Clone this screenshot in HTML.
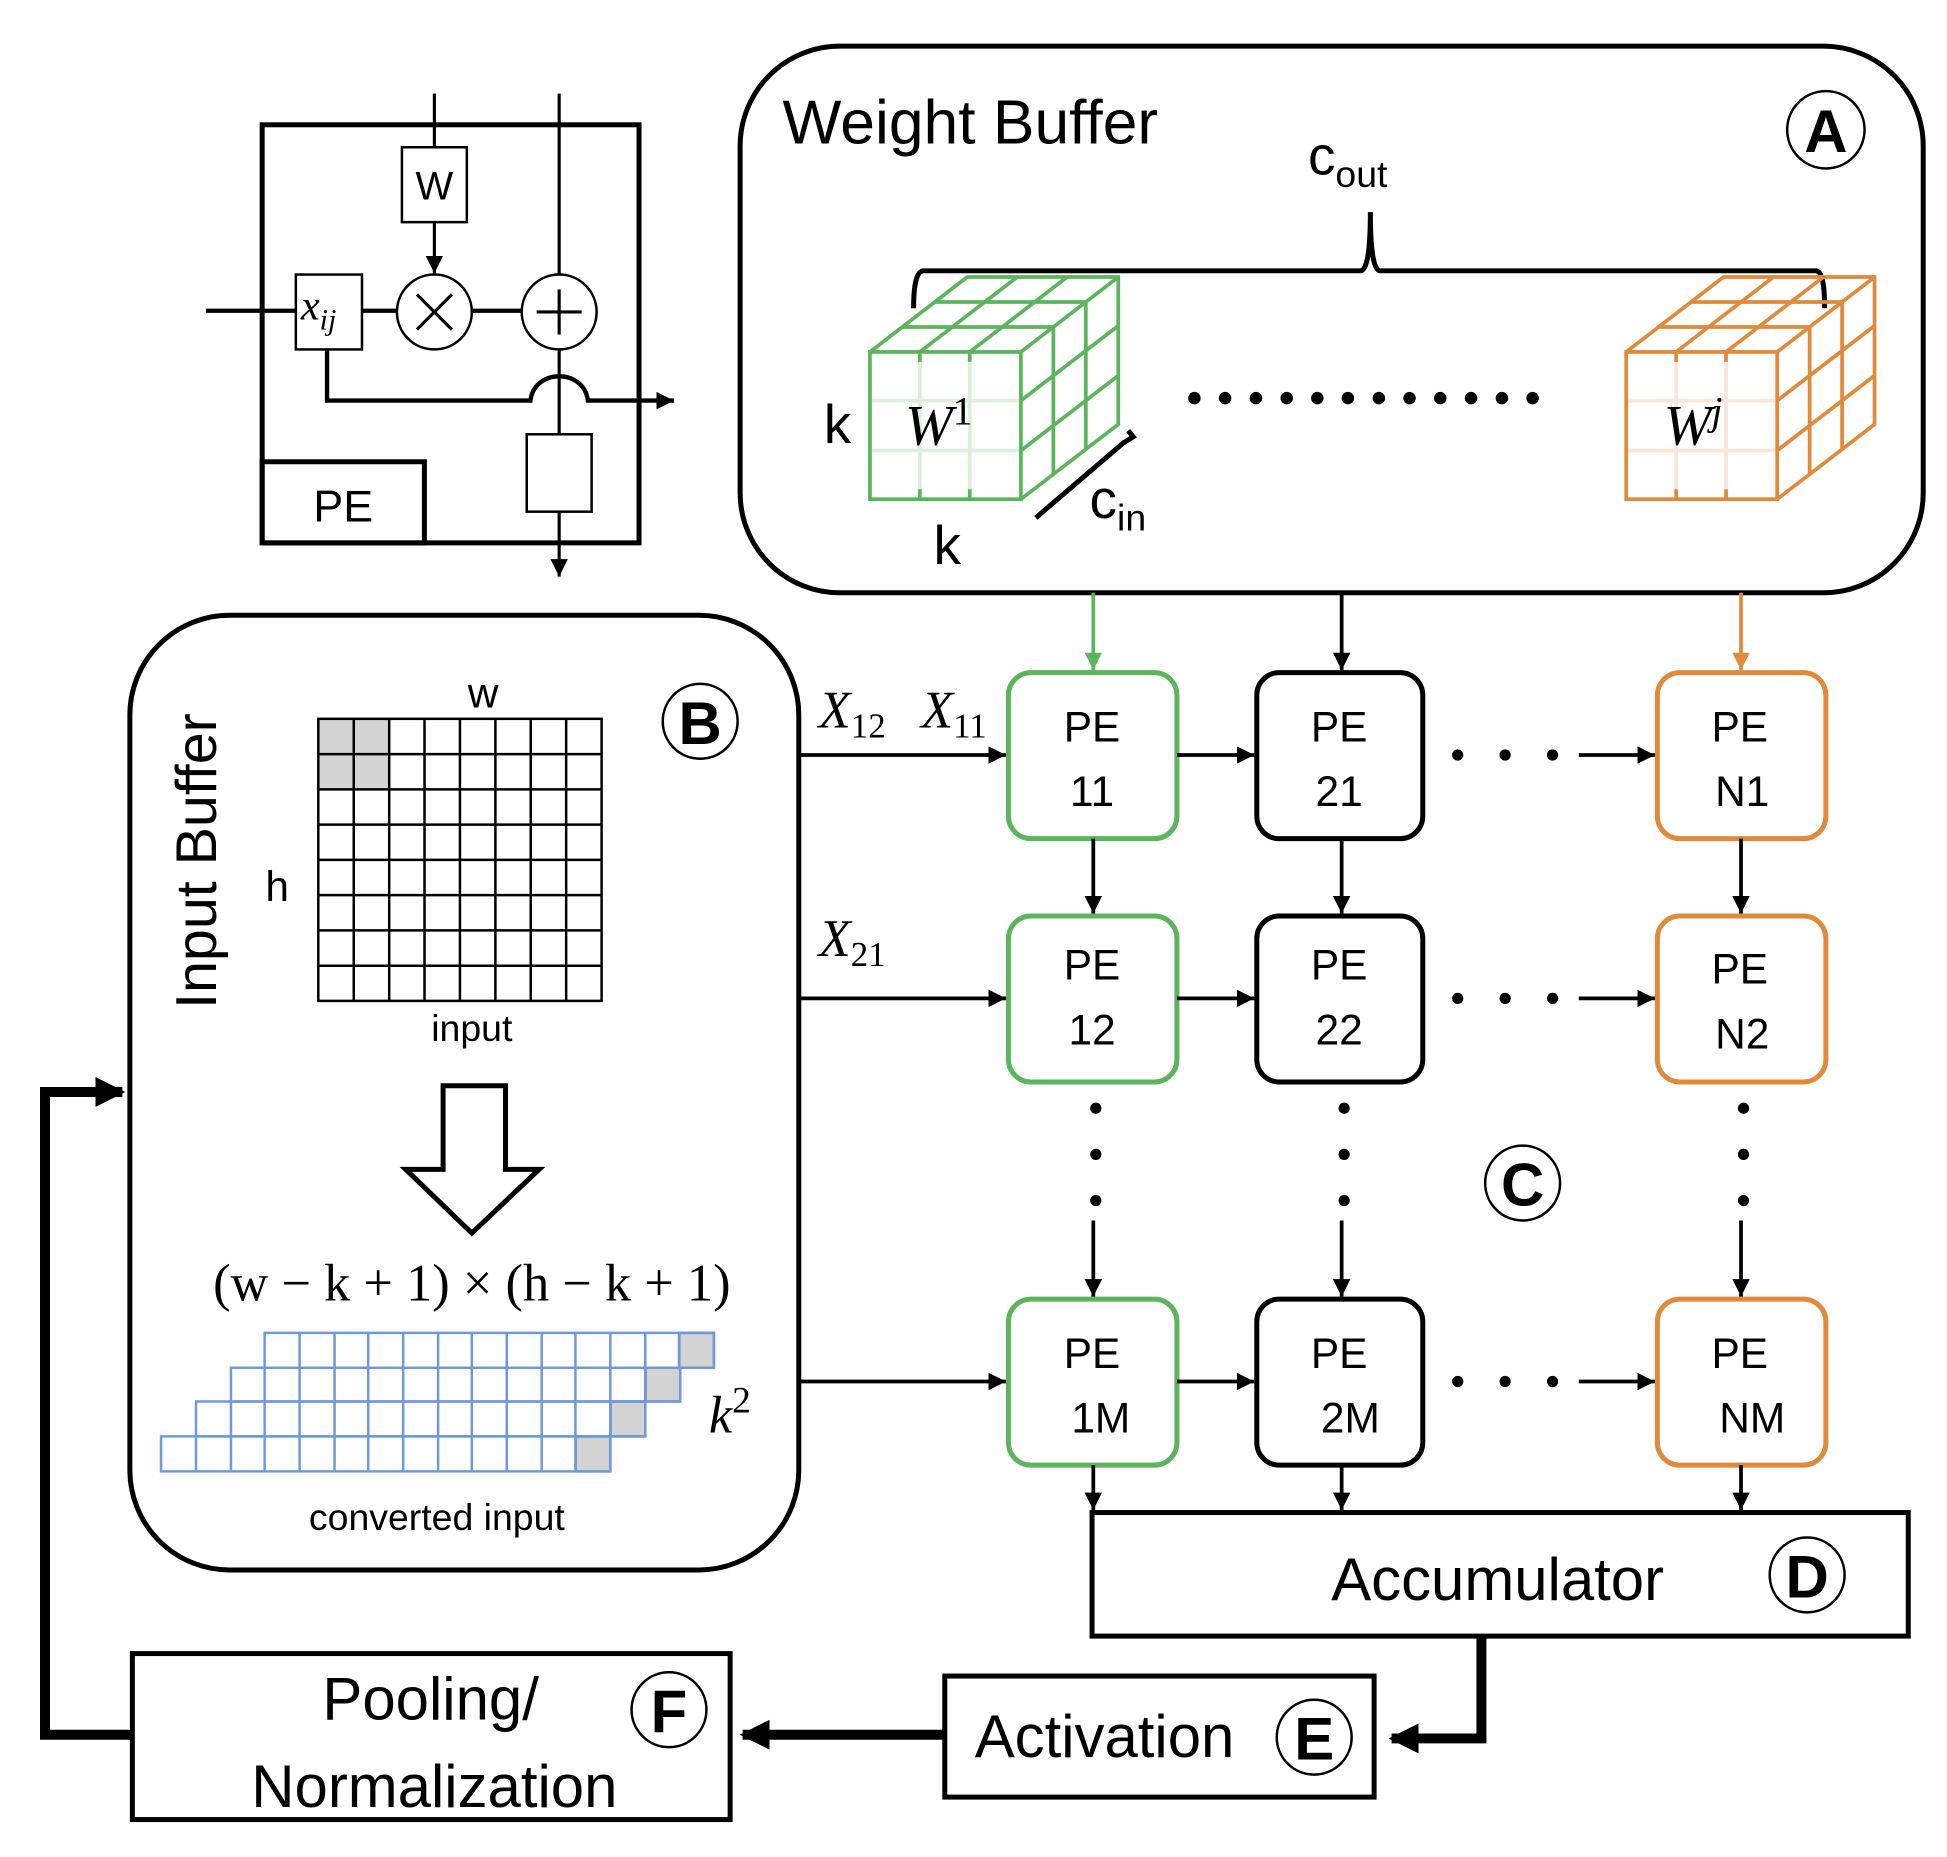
<!DOCTYPE html>
<html><head><meta charset="utf-8"><style>
html,body{margin:0;padding:0;background:#fff}
svg{display:block}
text{font-family:"Liberation Sans","DejaVu Sans",sans-serif}
.s{font-family:"Liberation Serif",serif;font-style:italic}
.r{font-family:"Liberation Serif",serif}
</style></head><body>
<svg width="1947" height="1857" viewBox="0 0 1560 1488" xmlns="http://www.w3.org/2000/svg">
<defs>
<marker id="a" viewBox="0 0 10 10" markerWidth="14" markerHeight="14" refX="10" refY="5" orient="auto" markerUnits="userSpaceOnUse"><path d="M0,0 L10,5 L0,10z" fill="#000"/></marker>
<marker id="ag" viewBox="0 0 10 10" markerWidth="14" markerHeight="14" refX="10" refY="5" orient="auto" markerUnits="userSpaceOnUse"><path d="M0,0 L10,5 L0,10z" fill="#5cb55c"/></marker>
<marker id="ao" viewBox="0 0 10 10" markerWidth="14" markerHeight="14" refX="10" refY="5" orient="auto" markerUnits="userSpaceOnUse"><path d="M0,0 L10,5 L0,10z" fill="#e08a3c"/></marker>
<marker id="at" viewBox="0 0 10 10" markerWidth="24" markerHeight="24" refX="9" refY="5" orient="auto" markerUnits="userSpaceOnUse"><path d="M0,0 L10,5 L0,10z" fill="#000"/></marker>
<g id="cube">
<rect x="697" y="282" width="121" height="118"/>
<path d="M697,282 L775,222 H896 V340 L818,400 M818,282 L896,222"/>
<path d="M737,282V290M737,392V400M777,282V290M777,392V400"/>
<path d="M723,262H844M749,242H870M737,282L815,222M777,282L855,222"/>
<path d="M844,262V380M870,242V360M818,321L896,261M818,361L896,301"/>
</g>
</defs>
<g fill="none" stroke="#000">
<rect x="210" y="100" width="302" height="335" stroke-width="4"/>
<rect x="210" y="370" width="130" height="65" stroke-width="4"/>
<line x1="348" y1="75" x2="348" y2="118" stroke-width="2.5"/>
<rect x="322" y="118" width="52" height="60" stroke-width="2"/>
<line x1="348" y1="178" x2="348" y2="219" stroke-width="2.5" marker-end="url(#a)"/>
<circle cx="348" cy="250" r="30" stroke-width="2"/>
<path d="M334,236 L362,264 M362,236 L334,264" stroke-width="2.5"/>
<circle cx="448" cy="250" r="30" stroke-width="2"/>
<path d="M448,232 V268 M430,250 H466" stroke-width="2.5"/>
<line x1="448" y1="75" x2="448" y2="220" stroke-width="2.5"/>
<line x1="448" y1="280" x2="448" y2="348" stroke-width="2.5"/>
<rect x="422" y="348" width="52" height="62" stroke-width="2"/>
<line x1="448" y1="410" x2="448" y2="462" stroke-width="2.5" marker-end="url(#a)"/>
<line x1="165" y1="249" x2="237" y2="249" stroke-width="3.5"/>
<rect x="237" y="220" width="53" height="60" stroke-width="2"/>
<line x1="290" y1="249" x2="318" y2="249" stroke-width="3.5"/>
<line x1="378" y1="249" x2="418" y2="249" stroke-width="3.5"/>
<path d="M262,280 V321 H425 C428,295 468,295 471,321 H540" stroke-width="3.5" marker-end="url(#a)"/>
<rect x="593" y="37" width="948" height="438" rx="80" stroke-width="4"/>
<circle cx="1463" cy="104" r="31" stroke-width="2"/>
<path d="M732,247 Q732,217 740,217 H1090 Q1098,217 1098,170 Q1098,217 1106,217 H1455 Q1462,217 1462,247" stroke-width="4"/>
<path d="M830,415 L838,408 L900,355 L908,350 L904,345" stroke-width="4"/>
<rect x="104" y="493" width="536" height="765" rx="80" stroke-width="4"/>
<circle cx="561" cy="578" r="30" stroke-width="2"/>
<circle cx="1220" cy="948" r="30" stroke-width="2"/>
<path d="M355,870 H405 V937 H432 L378,988 L325,937 H355 Z" stroke-width="4"/>
<rect x="875" y="1212" width="654" height="99" stroke-width="4"/>
<circle cx="1448" cy="1262" r="30" stroke-width="2"/>
<rect x="757" y="1343" width="344" height="97" stroke-width="4"/>
<circle cx="1053" cy="1392" r="30" stroke-width="2"/>
<rect x="106" y="1325" width="479" height="133" stroke-width="4"/>
<circle cx="536" cy="1370" r="30" stroke-width="2"/>
<path d="M1187,1311 V1393 H1115" stroke-width="8" marker-end="url(#at)"/>
<path d="M757,1390 H595" stroke-width="8" marker-end="url(#at)"/>
<path d="M106,1390 H36 V875 H98" stroke-width="8" marker-end="url(#at)"/>
</g>
<rect x="255" y="576" width="57" height="57" fill="#d3d3d3"/>
<g stroke="#000" stroke-width="2" fill="none">
<rect x="255" y="576" width="227" height="226"/>
<path d="M283.4,576V802M311.8,576V802M340.1,576V802M368.5,576V802M396.9,576V802M425.2,576V802M453.6,576V802
M255,604.3H482M255,632.5H482M255,660.8H482M255,689H482M255,717.3H482M255,745.5H482M255,773.8H482"/>
</g>
<g fill="#d3d3d3" stroke="#6f9ad6" stroke-width="2">
<rect x="544.3" y="1068" width="27.7" height="28"/>
<rect x="517.3" y="1096" width="27.7" height="27"/>
<rect x="489.3" y="1123" width="27.7" height="28"/>
<rect x="461.3" y="1151" width="27.7" height="28"/>
</g>
<g stroke="#6f9ad6" stroke-width="2" fill="none">
<path d="M212,1068H572V1096H212Z M240,1068V1096M268,1068V1096M295,1068V1096M323,1068V1096M351,1068V1096M378,1068V1096M406,1068V1096M434,1068V1096M461,1068V1096M489,1068V1096M517,1068V1096M544,1068V1096"/>
<path d="M185,1096H545V1123H185Z M212,1096V1123M240,1096V1123M268,1096V1123M295,1096V1123M323,1096V1123M351,1096V1123M378,1096V1123M406,1096V1123M434,1096V1123M461,1096V1123M489,1096V1123M517,1096V1123"/>
<path d="M157,1123H517V1151H157Z M185,1123V1151M212,1123V1151M240,1123V1151M268,1123V1151M295,1123V1151M323,1123V1151M351,1123V1151M378,1123V1151M406,1123V1151M434,1123V1151M461,1123V1151M489,1123V1151"/>
<path d="M129,1151H489V1179H129Z M157,1151V1179M185,1151V1179M212,1151V1179M240,1151V1179M268,1151V1179M295,1151V1179M323,1151V1179M351,1151V1179M378,1151V1179M406,1151V1179M434,1151V1179M461,1151V1179"/>
</g>
<g fill="none" stroke-width="3">
<path d="M737,282V400M777,282V400M697,321H818M697,361H818" stroke="#dceedc"/>
<use href="#cube" stroke="#5cb55c"/>
<path d="M1343,282V400M1383,282V400M1303,321H1424M1303,361H1424" stroke="#f8e6d6"/>
<use href="#cube" stroke="#e08a3c" transform="translate(606,0)"/>
</g>
<g fill="#000">
<circle cx="957" cy="319" r="5"/><circle cx="981.6" cy="319" r="5"/><circle cx="1006.3" cy="319" r="5"/><circle cx="1031" cy="319" r="5"/><circle cx="1055.5" cy="319" r="5"/><circle cx="1080" cy="319" r="5"/><circle cx="1104.8" cy="319" r="5"/><circle cx="1129.4" cy="319" r="5"/><circle cx="1154" cy="319" r="5"/><circle cx="1178.7" cy="319" r="5"/><circle cx="1203.4" cy="319" r="5"/><circle cx="1228" cy="319" r="5"/>
</g>
<g fill="none" stroke-width="4">
<rect x="808" y="539" width="135" height="133" rx="18" stroke="#5cb55c"/>
<rect x="808" y="734" width="135" height="133" rx="18" stroke="#5cb55c"/>
<rect x="808" y="1041" width="135" height="133" rx="18" stroke="#5cb55c"/>
<rect x="1007" y="539" width="133" height="133" rx="18" stroke="#000"/>
<rect x="1007" y="734" width="133" height="133" rx="18" stroke="#000"/>
<rect x="1007" y="1041" width="133" height="133" rx="18" stroke="#000"/>
<rect x="1328" y="539" width="135" height="133" rx="18" stroke="#e08a3c"/>
<rect x="1328" y="734" width="135" height="133" rx="18" stroke="#e08a3c"/>
<rect x="1328" y="1041" width="135" height="133" rx="18" stroke="#e08a3c"/>
</g>
<g stroke-width="3" fill="none">
<line x1="876" y1="475" x2="876" y2="537" stroke="#5cb55c" marker-end="url(#ag)"/>
<line x1="1075" y1="475" x2="1075" y2="537" stroke="#000" marker-end="url(#a)"/>
<line x1="1395" y1="475" x2="1395" y2="537" stroke="#e08a3c" marker-end="url(#ao)"/>
<g stroke="#000">
<line x1="640" y1="605" x2="806" y2="605" marker-end="url(#a)"/>
<line x1="640" y1="800" x2="806" y2="800" marker-end="url(#a)"/>
<line x1="640" y1="1107" x2="806" y2="1107" marker-end="url(#a)"/>
<line x1="943" y1="605" x2="1005" y2="605" marker-end="url(#a)"/>
<line x1="943" y1="800" x2="1005" y2="800" marker-end="url(#a)"/>
<line x1="943" y1="1107" x2="1005" y2="1107" marker-end="url(#a)"/>
<line x1="1265" y1="605" x2="1326" y2="605" marker-end="url(#a)"/>
<line x1="1265" y1="800" x2="1326" y2="800" marker-end="url(#a)"/>
<line x1="1265" y1="1107" x2="1326" y2="1107" marker-end="url(#a)"/>
<line x1="876" y1="672" x2="876" y2="732" marker-end="url(#a)"/>
<line x1="1075" y1="672" x2="1075" y2="732" marker-end="url(#a)"/>
<line x1="1395" y1="672" x2="1395" y2="732" marker-end="url(#a)"/>
<line x1="876" y1="978" x2="876" y2="1039" marker-end="url(#a)"/>
<line x1="1075" y1="978" x2="1075" y2="1039" marker-end="url(#a)"/>
<line x1="1395" y1="978" x2="1395" y2="1039" marker-end="url(#a)"/>
<line x1="876" y1="1174" x2="876" y2="1210" marker-end="url(#a)"/>
<line x1="1075" y1="1174" x2="1075" y2="1210" marker-end="url(#a)"/>
<line x1="1395" y1="1174" x2="1395" y2="1210" marker-end="url(#a)"/>
</g>
</g>
<g fill="#000">
<circle cx="1168" cy="605" r="4.5"/><circle cx="1206" cy="605" r="4.5"/><circle cx="1244" cy="605" r="4.5"/>
<circle cx="1168" cy="800" r="4.5"/><circle cx="1206" cy="800" r="4.5"/><circle cx="1244" cy="800" r="4.5"/>
<circle cx="1168" cy="1107" r="4.5"/><circle cx="1206" cy="1107" r="4.5"/><circle cx="1244" cy="1107" r="4.5"/>
<circle cx="878" cy="888" r="4.5"/><circle cx="878" cy="925" r="4.5"/><circle cx="878" cy="962" r="4.5"/>
<circle cx="1077" cy="888" r="4.5"/><circle cx="1077" cy="925" r="4.5"/><circle cx="1077" cy="962" r="4.5"/>
<circle cx="1397" cy="888" r="4.5"/><circle cx="1397" cy="925" r="4.5"/><circle cx="1397" cy="962" r="4.5"/>
</g>
<g fill="#000">
<text x="348" y="160" font-size="32" text-anchor="middle">W</text>
<text x="241" y="256" font-size="34" class="s">x<tspan font-size="24" dy="8">ij</tspan></text>
<text x="275" y="418" font-size="36" text-anchor="middle">PE</text>
<text x="627" y="115" font-size="50">Weight Buffer</text>
<text x="1463" y="122" font-size="48" font-weight="bold" text-anchor="middle">A</text>
<text x="1048" y="140" font-size="44">c<tspan font-size="30" dy="10">out</tspan></text>
<text x="660" y="355" font-size="44">k</text>
<text x="748" y="452" font-size="44">k</text>
<text x="873" y="415" font-size="44">c<tspan font-size="30" dy="10">in</tspan></text>
<text x="725" y="356" font-size="46" class="s">W<tspan font-size="32" dy="-16" font-style="normal">1</tspan></text>
<text x="1333" y="356" font-size="46" class="s">W<tspan font-size="32" dy="-16">j</tspan></text>
<text transform="translate(173,690) rotate(-90)" font-size="46" text-anchor="middle">Input Buffer</text>
<text x="561" y="596" font-size="48" font-weight="bold" text-anchor="middle">B</text>
<text x="387" y="567" font-size="34" text-anchor="middle">w</text>
<text x="222" y="722" font-size="34" text-anchor="middle">h</text>
<text x="378" y="834" font-size="30" text-anchor="middle">input</text>
<text x="378" y="1042" font-size="42" text-anchor="middle" class="r">(w − k + 1) × (h − k + 1)</text>
<text x="568" y="1148" font-size="42" class="s">k<tspan font-size="30" dy="-16" font-style="normal">2</tspan></text>
<text x="350" y="1226" font-size="30" text-anchor="middle">converted input</text>
<text x="656" y="583" font-size="42" class="s">X<tspan font-size="28" dy="8" font-style="normal">12</tspan></text>
<text x="738" y="583" font-size="42" class="s">X<tspan font-size="28" dy="8" font-style="normal">11</tspan></text>
<text x="656" y="766" font-size="42" class="s">X<tspan font-size="28" dy="8" font-style="normal">21</tspan></text>
<g font-size="34" text-anchor="middle">
<text x="875" y="594">PE</text><text x="875" y="646">11</text>
<text x="1073" y="594">PE</text><text x="1073" y="646">21</text>
<text x="1394" y="594">PE</text><text x="1396" y="646">N1</text>
<text x="875" y="785">PE</text><text x="875" y="837">12</text>
<text x="1073" y="785">PE</text><text x="1073" y="837">22</text>
<text x="1394" y="788">PE</text><text x="1396" y="840">N2</text>
<text x="875" y="1096">PE</text><text x="882" y="1148">1M</text>
<text x="1073" y="1096">PE</text><text x="1082" y="1148">2M</text>
<text x="1394" y="1096">PE</text><text x="1404" y="1148">NM</text>
</g>
<text x="1220" y="966" font-size="48" font-weight="bold" text-anchor="middle">C</text>
<text x="1200" y="1282" font-size="48" text-anchor="middle">Accumulator</text>
<text x="1448" y="1280" font-size="48" font-weight="bold" text-anchor="middle">D</text>
<text x="885" y="1408" font-size="48" text-anchor="middle">Activation</text>
<text x="1053" y="1410" font-size="48" font-weight="bold" text-anchor="middle">E</text>
<text x="345" y="1378" font-size="48" text-anchor="middle">Pooling/</text>
<text x="348" y="1448" font-size="48" text-anchor="middle">Normalization</text>
<text x="536" y="1388" font-size="48" font-weight="bold" text-anchor="middle">F</text>
</g>
</svg>
</body></html>
